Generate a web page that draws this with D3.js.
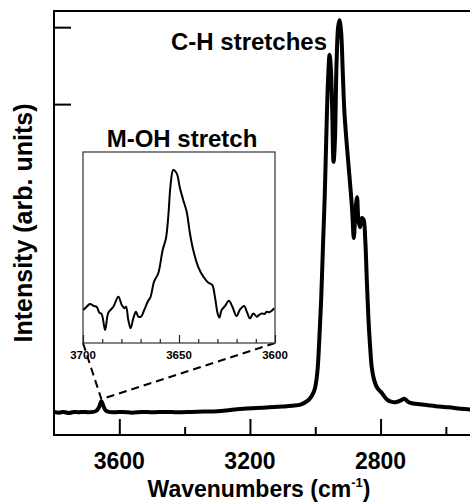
<!DOCTYPE html>
<html>
<head>
<meta charset="utf-8">
<script src="https://cdn.jsdelivr.net/npm/d3@7"></script>
<style>
  html, body { margin: 0; padding: 0; background: #fff; }
  svg { display: block; }
  text { font-family: "Liberation Sans", Arial, Helvetica, sans-serif; font-weight: bold; fill: #000; }
</style>
</head>
<body>
<svg id="chart" width="470" height="504"></svg>
<script>
// IR spectrum: wavenumber (cm^-1) and intensity (arb. units)
const wavenumbers = [3800,3785,3770,3755,3740,3725,3710,3695,3680,3670,3662,3655,3649,3642,3632,3615,3590,3560,3530,3500,3460,3420,3380,3340,3300,3260,3220,3180,3140,3100,3070,3045,3025,3012,3002,2994,2988,2982,2976,2971,2966,2961,2956,2952,2948,2944,2940,2935,2930,2926,2921,2916,2911,2903,2895,2887,2882,2877,2872,2868,2863,2857,2852,2847,2842,2837,2832,2827,2820,2810,2797,2780,2765,2750,2738,2727,2715,2700,2680,2660,2620,2590,2555,2520];
const intensity = [0.00,-0.01,0.00,-0.015,0.00,-0.005,0.00,-0.005,0.00,0.015,0.06,0.14,0.08,0.02,0.00,-0.005,0.00,-0.01,0.00,-0.005,0.00,-0.005,0.00,0.005,0.01,0.025,0.04,0.05,0.06,0.07,0.08,0.095,0.14,0.20,0.29,0.50,0.90,1.45,2.20,2.80,3.60,4.30,4.64,4.45,3.90,3.25,3.50,4.50,5.00,5.09,4.95,4.45,3.92,3.45,3.05,2.62,2.26,2.60,2.79,2.50,2.40,2.52,2.50,2.25,1.70,1.20,0.85,0.58,0.42,0.31,0.25,0.16,0.13,0.13,0.15,0.17,0.13,0.11,0.10,0.09,0.07,0.06,0.04,0.03];

// M-OH region, enlarged (3700-3600 cm^-1)
const ohWavenumbers = [3699.8,3698.1,3696.4,3694.3,3692.9,3691.5,3690.3,3688.5,3686.8,3684.2,3681.6,3679.8,3678.5,3677.6,3676.4,3675.2,3673.8,3672.4,3671.2,3669.8,3668.1,3666.3,3664.8,3663.0,3660.8,3658.5,3656.8,3655.6,3654.3,3653.0,3651.2,3649.5,3647.8,3646.0,3644.3,3642.6,3640.0,3637.3,3634.7,3632.7,3631.3,3629.9,3629.0,3627.8,3626.0,3624.0,3622.2,3620.0,3618.2,3616.0,3614.7,3613.0,3611.3,3609.5,3608.3,3606.9,3605.5,3604.3,3602.9,3601.7,3600.4];
const ohIntensity = [17.3,19.0,20.4,19.4,19.0,15.9,15.2,6.8,15.9,19.0,24.2,19.9,18.2,19.0,12.0,7.7,12.9,16.4,13.8,13.8,17.3,21.6,24.2,32.1,36.5,48.7,54.8,66.1,83.6,90.6,88.8,81.0,74.9,68.7,57.4,48.7,39.9,34.7,31.6,30.4,24.2,15.5,13.3,17.3,19.4,22.1,19.0,14.1,17.6,19.4,16.4,12.9,15.5,13.8,14.7,15.5,15.2,16.4,16.1,16.9,18.2];

// Axis ticks
const xMajorTicks = [3600, 3200, 2800];
const xMinorTicks = [3400, 3000, 2600];
const yTicks = [4, 5];
const insetMajorTicks = [3700, 3650, 3600];
const insetMinorTicks = [3690, 3680, 3670, 3660, 3640, 3630, 3620, 3610];

const svg = d3.select("#chart");

// Main panel
const plot = { left: 54, right: 472, top: 11, bottom: 435 };
const x = d3.scaleLinear().domain([3800, 2520]).range([plot.left, plot.right]);
const y = d3.scaleLinear().domain([-0.3, 5.21]).range([plot.bottom, plot.top]);

const spectrum = wavenumbers.map((w, i) => ({ w, v: intensity[i] }));

svg.append("defs").append("clipPath").attr("id", "plotClip")
  .append("rect").attr("x", plot.left).attr("y", plot.top)
  .attr("width", plot.right - plot.left).attr("height", plot.bottom - plot.top);

// Frame
svg.append("rect")
  .attr("x", plot.left).attr("y", plot.top)
  .attr("width", plot.right - plot.left).attr("height", plot.bottom - plot.top)
  .attr("fill", "none").attr("stroke", "#000").attr("stroke-width", 2);

// Bottom axis: inward ticks
const xAxisMajor = d3.axisTop(x).tickValues(xMajorTicks).tickSize(16).tickFormat("");
const xAxisMinor = d3.axisTop(x).tickValues(xMinorTicks).tickSize(8).tickFormat("");
[xAxisMajor, xAxisMinor].forEach(ax => {
  const g = svg.append("g").attr("transform", `translate(0,${plot.bottom})`).call(ax);
  g.select(".domain").remove();
  g.selectAll("line").attr("stroke", "#000").attr("stroke-width", 2);
});
svg.append("g").selectAll("text").data(xMajorTicks).join("text")
  .attr("x", d => x(d)).attr("y", 469)
  .attr("text-anchor", "middle").style("font-size", "23px")
  .text(d => d);

// Left axis: inward ticks
const yAxis = d3.axisRight(y).tickValues(yTicks).tickSize(17).tickFormat("");
const gy = svg.append("g").attr("transform", `translate(${plot.left},0)`).call(yAxis);
gy.select(".domain").remove();
gy.selectAll("line").attr("stroke", "#000").attr("stroke-width", 2);

// Axis titles
const xTitle = svg.append("text").attr("x", 259).attr("y", 497)
  .attr("text-anchor", "middle").style("font-size", "23px");
xTitle.append("tspan").text("Wavenumbers (cm");
xTitle.append("tspan").attr("dy", -10).style("font-size", "13px").text("-1");
xTitle.append("tspan").attr("dy", 10).text(")");

svg.append("text")
  .attr("transform", "translate(32,223) rotate(-90)")
  .attr("text-anchor", "middle").style("font-size", "25px")
  .text("Intensity (arb. units)");

// Spectrum trace
const line = d3.line().x(d => x(d.w)).y(d => y(d.v)).curve(d3.curveCatmullRom.alpha(0.5));
svg.append("path").datum(spectrum)
  .attr("clip-path", "url(#plotClip)")
  .attr("d", line)
  .attr("fill", "none").attr("stroke", "#000")
  .attr("stroke-width", 4).attr("stroke-linejoin", "round").attr("stroke-linecap", "round");

svg.append("text").attr("x", 249).attr("y", 50)
  .attr("text-anchor", "middle").style("font-size", "24px")
  .text("C-H stretches");

// Inset: M-OH stretch
const inset = { left: 83, right: 275, top: 152, bottom: 343 };
const xi = d3.scaleLinear().domain([3700, 3600]).range([inset.left, inset.right]);
const yi = d3.scaleLinear().domain([0, 100]).range([inset.bottom, inset.top]);

// Zoom guides from the small peak to the inset corners
const peakIdx = wavenumbers.indexOf(3655);
const anchor = [x(wavenumbers[peakIdx]), y(intensity[peakIdx])];
[[inset.left, inset.bottom], [inset.right, inset.bottom]].forEach(c => {
  svg.append("line")
    .attr("x1", c[0]).attr("y1", c[1]).attr("x2", anchor[0]).attr("y2", anchor[1] - 2)
    .attr("stroke", "#000").attr("stroke-width", 2).attr("stroke-dasharray", "8,5");
});

svg.append("rect")
  .attr("x", inset.left).attr("y", inset.top)
  .attr("width", inset.right - inset.left).attr("height", inset.bottom - inset.top)
  .attr("fill", "#fff").attr("stroke", "#333").attr("stroke-width", 1.2);

const xiMajor = d3.axisTop(xi).tickValues(insetMajorTicks).tickSize(8).tickFormat("");
const xiMinor = d3.axisTop(xi).tickValues(insetMinorTicks).tickSize(4).tickFormat("");
[xiMajor, xiMinor].forEach(ax => {
  const g = svg.append("g").attr("transform", `translate(0,${inset.bottom})`).call(ax);
  g.select(".domain").remove();
  g.selectAll("line").attr("stroke", "#222").attr("stroke-width", 1.2);
});
svg.append("g").selectAll("text").data(insetMajorTicks).join("text")
  .attr("x", d => xi(d)).attr("y", 359)
  .attr("text-anchor", "middle").style("font-size", "11.5px")
  .text(d => d);

const ohData = ohWavenumbers.map((w, i) => ({ w, v: ohIntensity[i] }));
const ohLine = d3.line().x(d => xi(d.w)).y(d => yi(d.v)).curve(d3.curveCatmullRom.alpha(0.5));
svg.append("path").datum(ohData)
  .attr("d", ohLine)
  .attr("fill", "none").attr("stroke", "#000")
  .attr("stroke-width", 2).attr("stroke-linejoin", "round");

svg.append("text").attr("x", 182).attr("y", 147)
  .attr("text-anchor", "middle").style("font-size", "24px")
  .text("M-OH stretch");
</script>
</body>
</html>
